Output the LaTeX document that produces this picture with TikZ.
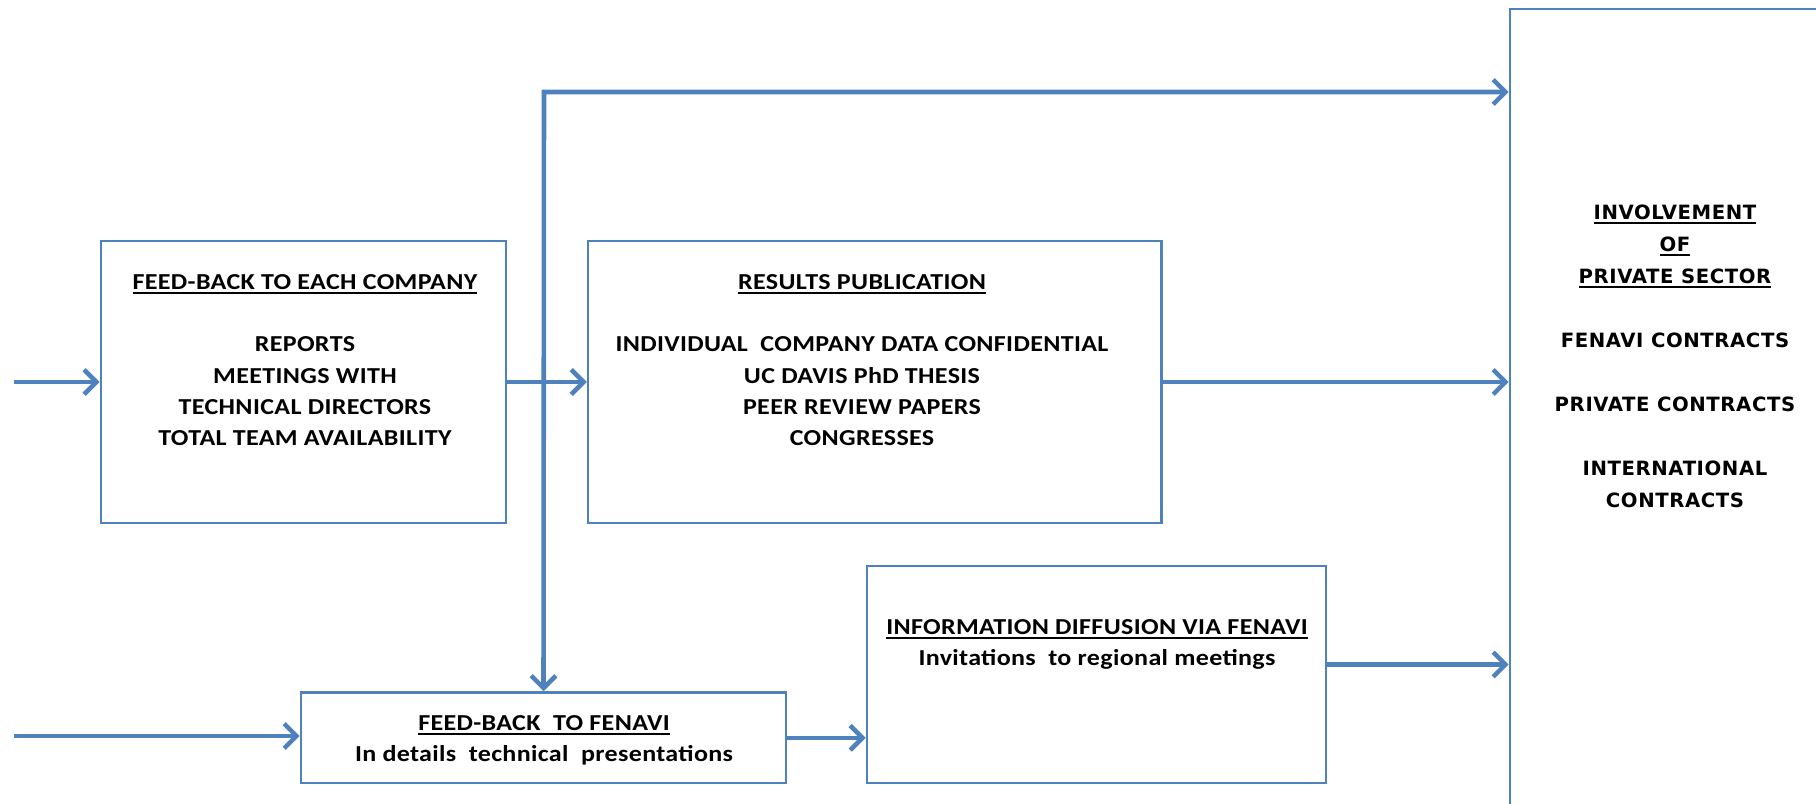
\documentclass[tikz,border=0pt]{standalone}
\usepackage{fontspec}
\setmainfont{Carlito}[FakeStretch=1.14, LetterSpace=1.5]
\newfontfamily\widefont{DejaVu Sans}[LetterSpace=3]
\newcommand{\undl}[1]{\setbox0\hbox{#1}\rlap{\copy0}\rule[-2.6pt]{\wd0}{1.1pt}}
\usetikzlibrary{arrows.meta}
\definecolor{boxblue}{RGB}{79,129,189}

\tikzset{
  box/.style={draw=boxblue, line width=1.5pt, inner sep=0pt},
  flow/.style={draw=boxblue, line width=2.6pt, -{Straight Barb[length=7pt,width=14pt]}},
  txt/.style={font=\bfseries\fontsize{13}{17.8}\selectfont, align=center, inner sep=0pt},
  widetxt/.style={font=\widefont\bfseries\fontsize{11.2}{18.2}\selectfont, align=center, inner sep=0pt}
}

\begin{document}
\begin{tikzpicture}[x=0.02cm, y=-0.02cm]
	\useasboundingbox (0,0) rectangle (1816,804);
	\clip (0,0) rectangle (1816,804);

	% boxes
	\node[box, minimum width=8.1cm, minimum height=5.64cm] (fbcompany) at (303.4,382) {};
	\node[box, minimum width=11.47cm, minimum height=5.64cm] (results) at (874.8,382) {};
	\node[box, minimum width=9.7cm, minimum height=1.81cm] (fbfenavi) at (543.5,737.8) {};
	\node[box, minimum width=9.18cm, minimum height=4.34cm] (diffusion) at (1096.5,674.5) {};
	\node[box, minimum width=7.8cm, minimum height=17.82cm] (involve) at (1705,454.5) {};

	% texts
	\node[txt] (fbcompanytxt) at (305,360) {\undl{FEED-BACK TO EACH COMPANY}\\[17.8pt]
		REPORTS\\ MEETINGS WITH\\ TECHNICAL DIRECTORS\\ TOTAL TEAM AVAILABILITY};
	\node[txt] (resultstxt) at (862,360) {\undl{RESULTS PUBLICATION}\\[17.8pt]
		INDIVIDUAL\ \ COMPANY DATA CONFIDENTIAL\\ UC DAVIS PhD THESIS\\ PEER REVIEW PAPERS\\ CONGRESSES};
	\node[txt] (fbfenavitxt) at (544,740) {\undl{FEED-BACK\ \ TO FENAVI}\\
		In details\ \ technical\ \ presentations};
	\node[txt] (diffusiontxt) at (1097,644.5) {\undl{INFORMATION DIFFUSION VIA FENAVI}\\
		Invitations\ \ to regional meetings};
	\node[widetxt] (involvetxt) at (1675,356.5) {\undl{INVOLVEMENT}\\ \undl{OF}\\ \undl{PRIVATE SECTOR}\\[18.2pt]
		FENAVI CONTRACTS\\[18.2pt] PRIVATE CONTRACTS\\[18.2pt] INTERNATIONAL\\ CONTRACTS};

	% connectors
	\coordinate (in1) at (14,382);
	\coordinate (in2) at (14,736);
	\coordinate (corner) at (544,92);

	\draw[flow] (in1) -- (fbcompany.west);
	\draw[flow] (fbcompany.east) -- (results.west);
	\draw[flow] (results.east) -- (results.east -| involve.west);
	\draw[flow] (in2) -- (in2 -| fbfenavi.west);
	\draw[flow] (fbfenavi.east) -- (fbfenavi.east -| diffusion.west);
	\draw[flow] ([yshift=0.2cm]diffusion.east) -- ([yshift=0.2cm]diffusion.east -| involve.west);
	\draw[flow, {Straight Barb[length=7pt,width=14pt]}-{Straight Barb[length=7pt,width=14pt]}]
		(fbfenavi.north) -- (corner) -- (corner -| involve.west);
\end{tikzpicture}
\end{document}
